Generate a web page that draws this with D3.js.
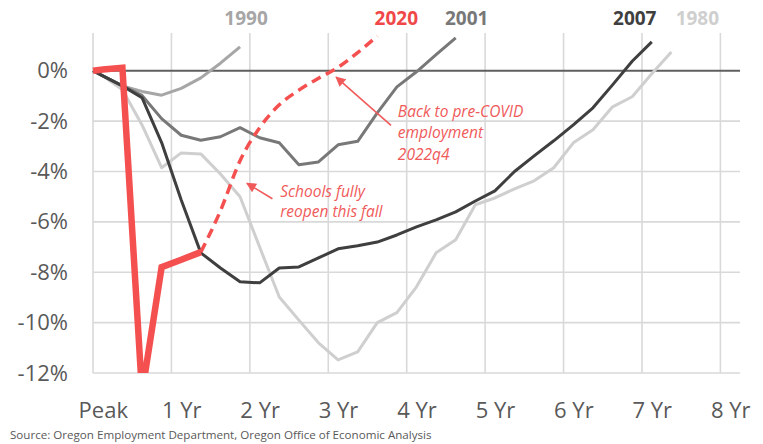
<!DOCTYPE html>
<html>
<head>
<meta charset="utf-8">
<script src="https://cdn.jsdelivr.net/npm/d3@7"></script>
<style>
  body { margin: 0; background: #fff; }
  svg { display: block; }
  text { font-family: "Open Sans", "DejaVu Sans", sans-serif; }
</style>
</head>
<body>
<svg id="chart" width="763" height="444"></svg>
<script>
// Oregon employment: percent change from the pre-recession peak, by quarter since peak.
// Index 0 is the peak itself; later readings sit mid-quarter.
const yearLabels = ["Peak", "1 Yr", "2 Yr", "3 Yr", "4 Yr", "5 Yr", "6 Yr", "7 Yr", "8 Yr"];
const yTicks = [0, -2, -4, -6, -8, -10, -12];

const rec1980 = [0, -0.2, -0.75, -2.15, -3.85, -3.26, -3.3, -4.1, -5.0, -7.0, -8.98, -9.9,
  -10.8, -11.48, -11.16, -10.0, -9.6, -8.58, -7.23, -6.71, -5.32, -5.05, -4.69, -4.37,
  -3.85, -2.86, -2.34, -1.43, -1.03, -0.12, 0.75];
const rec1990 = [0, -0.2, -0.6, -0.82, -0.97, -0.7, -0.28, 0.3, 0.95];
const rec2001 = [0, -0.2, -0.6, -0.98, -1.9, -2.56, -2.76, -2.62, -2.26, -2.66, -2.86, -3.73,
  -3.62, -2.94, -2.8, -1.67, -0.64, -0.04, 0.64, 1.31];
const rec2007 = [0, -0.2, -0.6, -1.07, -2.85, -5.13, -7.23, -7.83, -8.38, -8.42, -7.83, -7.79,
  -7.43, -7.07, -6.95, -6.8, -6.52, -6.2, -5.92, -5.6, -5.17, -4.77, -4.0, -3.38, -2.78,
  -2.15, -1.47, -0.56, 0.38, 1.15];
const rec2020 = [0, 0.05, 0.12, -12.8, -7.8, -7.5, -7.2];
// Forecast path, picking up from the last actual reading (index 6).
const forecast2020 = [-7.2, -5.56, -3.57, -2.26, -1.35, -0.77, -0.3, 0.14, 0.72, 1.38];
const forecastStart = 6;

const seriesNames = ["1980", "1990", "2001", "2007", "2020"];

const styles = {
  "1980": { color: "#cfcfcf", width: 3, labelDx: 26 },
  "1990": { color: "#a6a6a6", width: 3, labelDx: 6 },
  "2001": { color: "#787878", width: 3, labelDx: 11 },
  "2007": { color: "#3f3f3f", width: 3, labelDx: -17 },
  "2020": { color: "#f4504f", width: 6.5, labelDx: 19 }
};

const svg = d3.select("#chart");
const W = 763, H = 444;
const margin = { left: 93, right: 23, top: 33, bottom: 71 };

const x = d3.scaleLinear().domain([0, 33]).range([margin.left, W - margin.right]);
const y = d3.scaleLinear().domain([-12, 1.5]).range([H - margin.bottom, margin.top]);

// quarter position of the i-th reading
const qAt = i => (i === 0 ? 0 : i - 0.5);
const toPoints = (vals, offset = 0) => vals.map((v, i) => [qAt(i + offset), v]);

const seriesData = {
  "1980": toPoints(rec1980),
  "1990": toPoints(rec1990),
  "2001": toPoints(rec2001),
  "2007": toPoints(rec2007),
  "2020": toPoints(rec2020)
};
const forecastPts = toPoints(forecast2020, forecastStart);

// gridlines
const grid = svg.append("g").attr("class", "grid");
grid.selectAll("line.v")
  .data(d3.range(0, 33, 4))
  .join("line")
  .attr("x1", d => x(d)).attr("x2", d => x(d))
  .attr("y1", y(1.5)).attr("y2", y(-12))
  .attr("stroke", "#d9d9d9").attr("stroke-width", 1.6);
grid.selectAll("line.h")
  .data(yTicks.filter(d => d !== 0))
  .join("line")
  .attr("x1", x(0)).attr("x2", x(33))
  .attr("y1", d => y(d)).attr("y2", d => y(d))
  .attr("stroke", "#d9d9d9").attr("stroke-width", 1.6);

// axes
const yAxis = d3.axisLeft(y).tickValues(yTicks).tickSize(0).tickPadding(25)
  .tickFormat(d => d + "%");
const gy = svg.append("g").attr("transform", `translate(${x(0)},0)`).call(yAxis);
gy.select(".domain").remove();
gy.selectAll("text").attr("font-size", 22).attr("fill", "#595959")
  .attr("font-family", "'Open Sans', sans-serif");

const xAxis = d3.axisBottom(x).tickValues(yearLabels.map((_, i) => i * 4 + 0.5))
  .tickSize(0).tickPadding(29).tickFormat((d, i) => yearLabels[i]);
const gx = svg.append("g").attr("transform", `translate(0,${y(-12)})`).call(xAxis);
gx.select(".domain").remove();
gx.selectAll("text").attr("font-size", 22).attr("fill", "#595959")
  .attr("font-family", "'Open Sans', sans-serif");

// zero line
svg.append("line")
  .attr("x1", x(0)).attr("x2", x(33))
  .attr("y1", y(0)).attr("y2", y(0))
  .attr("stroke", "#5f5f5f").attr("stroke-width", 2);

// clip at the bottom of the plot
svg.append("defs").append("clipPath").attr("id", "plot-clip")
  .append("rect").attr("x", 0).attr("y", 0).attr("width", W).attr("height", y(-12));

const line = d3.line().x(d => x(d[0])).y(d => y(d[1]));
const lines = svg.append("g").attr("clip-path", "url(#plot-clip)");

seriesNames.forEach(name => {
  const s = styles[name];
  lines.append("path")
    .datum(seriesData[name])
    .attr("d", line)
    .attr("fill", "none")
    .attr("stroke", s.color)
    .attr("stroke-width", s.width)
    .attr("stroke-linejoin", name === "2020" ? "miter" : "round")
    .attr("stroke-miterlimit", 20)
    .attr("stroke-linecap", "butt");
});

lines.append("path")
  .datum(forecastPts)
  .attr("d", d3.line().x(d => x(d[0])).y(d => y(d[1])).curve(d3.curveMonotoneX))
  .attr("fill", "none")
  .attr("stroke", styles["2020"].color)
  .attr("stroke-width", 3.5)
  .attr("stroke-dasharray", "10,6");

// recession labels over the line ends
const labelData = seriesNames.map(name => {
  const pts = name === "2020" ? forecastPts : seriesData[name];
  return { name, end: pts[pts.length - 1] };
});
svg.append("g").selectAll("text")
  .data(labelData)
  .join("text")
  .attr("x", d => x(d.end[0]) + styles[d.name].labelDx)
  .attr("y", 25)
  .attr("text-anchor", "middle")
  .attr("font-size", 19)
  .attr("font-weight", 700)
  .attr("fill", d => d.name === "2020" ? "#f04848" : styles[d.name].color)
  .text(d => d.name);

// annotations
const annoColor = "#f05a5a";
svg.select("defs").append("marker")
  .attr("id", "arrow")
  .attr("viewBox", "0 0 10 10")
  .attr("refX", 9).attr("refY", 5)
  .attr("markerWidth", 11).attr("markerHeight", 10)
  .attr("markerUnits", "userSpaceOnUse")
  .attr("orient", "auto")
  .append("path").attr("d", "M0,0 L10,5 L0,10 Z").attr("fill", annoColor);

const notes = [
  { lines: ["Schools fully", "reopen this fall"], at: [9.55, -5.0], lead: 20,
    from: [9.15, -5.08], to: [7.85, -4.47] },
  { lines: ["Back to pre-COVID", "employment", "2022q4"], at: [15.55, -1.83], lead: 21.5,
    from: [15.2, -2.17], to: [12.4, -0.25] }
];

notes.forEach(n => {
  svg.append("line")
    .attr("x1", x(n.from[0])).attr("y1", y(n.from[1]))
    .attr("x2", x(n.to[0])).attr("y2", y(n.to[1]))
    .attr("stroke", annoColor).attr("stroke-width", 1.6)
    .attr("marker-end", "url(#arrow)");
  n.lines.forEach((s, i) => {
    svg.append("text")
      .attr("x", x(n.at[0]))
      .attr("y", y(n.at[1]) + i * n.lead)
      .attr("font-size", 15.5).attr("font-style", "italic").attr("fill", annoColor)
      .text(s);
  });
});

// source line
svg.append("text")
  .attr("x", 10).attr("y", 439)
  .attr("font-size", 11.6).attr("fill", "#595959")
  .text("Source: Oregon Employment Department, Oregon Office of Economic Analysis");
</script>
</body>
</html>
